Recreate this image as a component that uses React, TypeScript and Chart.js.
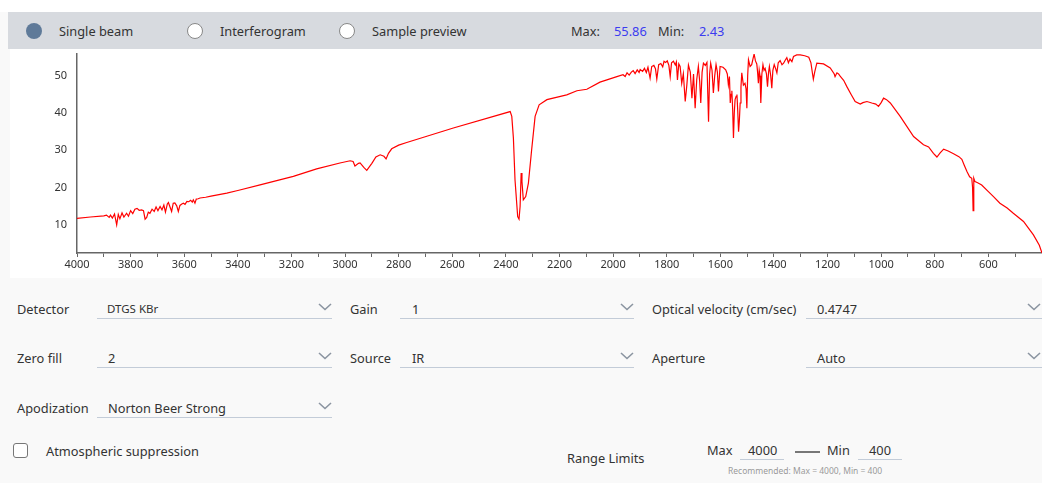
import React, { useEffect, useRef } from "react";
import { Chart, registerables } from "chart.js";

Chart.register(...registerables);

// Wavenumber (cm-1) of each sampled point, descending
const WAVENUMBERS = [
  4000, 3950, 3900, 3890, 3880, 3875, 3868, 3860, 3852, 3846, 3840, 3832, 3825, 3815, 3808, 3800,
  3792, 3784, 3776, 3768, 3759, 3752, 3746, 3740, 3734, 3728, 3720, 3712, 3705, 3698, 3690, 3683,
  3676, 3670, 3663, 3659, 3653, 3647, 3641, 3635, 3628, 3622, 3616, 3609, 3603, 3597, 3590, 3583,
  3576, 3570, 3566, 3560, 3555, 3548, 3541, 3520, 3500, 3441, 3400, 3317, 3193, 3106, 3019, 2981,
  2970, 2963, 2950, 2944, 2930, 2919, 2900, 2885, 2869, 2855, 2847, 2838, 2826, 2800, 2770, 2596,
  2384, 2378, 2372, 2366, 2356, 2351, 2347, 2343, 2340, 2335, 2326, 2316, 2304, 2291, 2276, 2247,
  2173, 2135, 2098, 2049, 1986, 1963, 1955, 1948, 1940, 1932, 1925, 1918, 1910, 1903, 1899, 1890,
  1883, 1876, 1870, 1862, 1856, 1848, 1842, 1837, 1830, 1822, 1815, 1810, 1804, 1798, 1792, 1787,
  1782, 1775, 1768, 1764, 1760, 1755, 1750, 1744, 1738, 1731, 1725, 1719, 1712, 1706, 1700, 1694,
  1688, 1682, 1677, 1673, 1668, 1663, 1656, 1650, 1644, 1640, 1636, 1631, 1626, 1621, 1616, 1611,
  1607, 1601, 1590, 1580, 1574, 1570, 1566, 1563, 1560, 1557, 1554, 1551, 1548, 1545, 1541, 1538,
  1535, 1532, 1529, 1526, 1523, 1520, 1514, 1508, 1504, 1501, 1498, 1495, 1489, 1483, 1478, 1474,
  1469, 1464, 1461, 1458, 1455, 1452, 1449, 1445, 1441, 1437, 1433, 1428, 1424, 1420, 1417, 1412,
  1408, 1404, 1399, 1394, 1389, 1384, 1377, 1370, 1364, 1358, 1352, 1346, 1340, 1333, 1327, 1315,
  1302, 1285, 1270, 1262, 1256, 1253, 1248, 1240, 1215, 1190, 1175, 1172, 1165, 1159, 1153, 1147,
  1140, 1128, 1112, 1097, 1078, 1068, 1053, 1035, 1020, 1010, 1000, 991, 980, 966, 929, 879,
  842, 823, 805, 792, 780, 767, 750, 730, 710, 699, 690, 680, 670, 662, 659, 657,
  655, 654, 650, 640, 625, 600, 580, 557, 530, 507, 469, 432, 410, 400,
];

// Single-beam intensity at each wavenumber
const SINGLE_BEAM = [
  11.7, 12.1, 12.4, 12.6, 12.0, 12.6, 11.8, 12.9, 10.0, 12.8, 11.6, 13.2, 12.1, 13.1, 12.3, 13.8,
  13.0, 14.2, 14.4, 13.9, 14.0, 13.8, 11.5, 12.0, 13.4, 13.1, 14.2, 13.6, 14.8, 13.8, 14.9, 14.0,
  15.3, 13.4, 15.6, 16.0, 14.8, 13.6, 15.8, 15.9, 15.1, 13.6, 15.2, 15.6, 15.8, 15.5, 16.3, 16.2,
  16.6, 16.1, 16.7, 15.8, 16.9, 17.0, 17.2, 17.4, 17.7, 18.5, 19.2, 20.7, 23.0, 25.0, 26.6, 27.2,
  27.0, 25.8, 26.5, 26.6, 25.4, 24.6, 26.5, 28.2, 28.8, 28.4, 27.7, 29.2, 30.4, 31.4, 32.1, 36.0,
  40.4, 39.1, 33.3, 22.1, 12.2, 11.5, 14.9, 23.9, 21.6, 16.7, 17.6, 21.2, 30.1, 39.1, 42.2, 43.6,
  44.9, 46.0, 46.4, 48.3, 49.8, 50.3, 49.8, 50.8, 50.2, 51.0, 51.4, 50.6, 51.6, 50.9, 51.7, 51.2,
  52.0, 50.9, 52.3, 49.4, 52.5, 52.8, 51.9, 49.1, 53.0, 53.3, 52.4, 53.9, 53.6, 54.0, 52.8, 49.8,
  53.5, 53.9, 52.9, 53.7, 48.9, 53.2, 52.5, 48.0, 50.6, 43.1, 47.5, 52.9, 51.0, 44.0, 50.5, 41.3,
  49.0, 52.5, 48.5, 42.7, 51.0, 53.4, 52.8, 53.6, 37.7, 50.5, 53.4, 51.5, 45.4, 50.0, 53.0, 51.0,
  45.8, 52.5, 52.3, 51.6, 50.5, 47.6, 49.8, 42.7, 45.0, 46.0, 41.0, 33.3, 40.0, 43.6, 44.5, 45.0,
  40.5, 35.0, 38.0, 42.7, 47.0, 50.8, 47.5, 48.0, 46.5, 41.3, 50.0, 54.3, 52.5, 53.0, 54.6, 55.86,
  54.0, 53.2, 51.0, 48.0, 51.5, 50.0, 42.7, 50.5, 53.0, 51.5, 52.0, 50.5, 47.1, 51.0, 52.5, 50.0,
  46.7, 51.5, 53.0, 52.0, 50.8, 53.5, 54.1, 53.0, 53.4, 54.2, 54.9, 53.5, 54.5, 53.8, 55.2, 55.6,
  55.6, 55.4, 55.0, 53.5, 50.5, 49.1, 51.0, 53.4, 53.2, 52.1, 50.5, 49.8, 50.8, 50.5, 49.9, 49.4,
  48.8, 47.1, 45.0, 43.1, 42.4, 42.8, 43.1, 42.7, 42.4, 41.8, 42.8, 44.0, 43.6, 42.7, 39.1, 33.7,
  31.5, 30.9, 29.2, 28.2, 29.3, 30.3, 29.8, 29.1, 28.3, 27.6, 26.0, 24.3, 22.9, 22.5, 20.0, 13.8,
  16.0, 22.5, 21.6, 21.3, 20.7, 18.9, 17.5, 15.8, 14.5, 13.1, 10.9, 7.3, 4.5, 2.43,
];

const X_TICK_LABELS = [4000, 3800, 3600, 3400, 3200, 3000, 2800, 2600, 2400, 2200, 2000, 1800, 1600, 1400, 1200, 1000, 800, 600];
const X_MINOR_TICKS = [
  4000, 3900, 3800, 3700, 3600, 3500, 3400, 3300, 3200, 3100, 3000, 2900, 2800, 2700, 2600, 2500, 2400, 2300, 2200,
  2100, 2000, 1900, 1800, 1700, 1600, 1500, 1400, 1300, 1200, 1100, 1000, 900, 800, 700, 600, 500, 400,
];
const Y_TICK_LABELS = [10, 20, 30, 40, 50];
const X_RANGE = [400, 4000];
const Y_RANGE = [2.43, 55.86];

const UI_FONT = "'Noto Sans', 'Open Sans', sans-serif";
const TEXT = "#333";

function T(props: { x: number; y: number; size?: number; color?: string; children: React.ReactNode; weight?: number }) {
  return (
    <div
      style={{
        position: "absolute",
        left: props.x,
        top: props.y,
        transform: "translateY(-50%)",
        whiteSpace: "nowrap",
        lineHeight: 1,
        fontSize: props.size ?? 12.8,
        color: props.color ?? TEXT,
        fontWeight: props.weight ?? 400,
      }}
    >
      {props.children}
    </div>
  );
}

function Chevron(props: { x: number; y: number }) {
  return (
    <svg style={{ position: "absolute", left: props.x - 7, top: props.y - 4 }} width={14} height={8}>
      <polyline points="1,1 7,6.5 13,1" fill="none" stroke="#8b95a1" strokeWidth={1.6} />
    </svg>
  );
}

function Underline(props: { x1: number; x2: number; y: number }) {
  return (
    <div
      style={{
        position: "absolute",
        left: props.x1,
        top: props.y,
        width: props.x2 - props.x1,
        height: 1,
        background: "#c3ccd8",
      }}
    />
  );
}

export default function App() {
  const ref = useRef<HTMLCanvasElement | null>(null);

  useEffect(() => {
    document.body.style.margin = "0";
    const canvas = ref.current;
    if (!canvas) return;
    const points = WAVENUMBERS.map((w, i) => ({ x: w, y: SINGLE_BEAM[i] }));
    const chart = new Chart(canvas, {
      type: "line",
      data: {
        datasets: [
          {
            data: points,
            borderColor: "#ff0000",
            borderWidth: 1.2,
            pointRadius: 0,
            tension: 0,
            fill: false,
          },
        ],
      },
      options: {
        animation: false,
        responsive: false,
        maintainAspectRatio: false,
        layout: { padding: { top: 4, right: 0, left: 0, bottom: 0 } },
        plugins: { legend: { display: false }, tooltip: { enabled: false } },
        scales: {
          x: {
            type: "linear",
            reverse: true,
            min: X_RANGE[0],
            max: X_RANGE[1],
            afterBuildTicks: (s: any) => {
              s.ticks = X_MINOR_TICKS.map((v) => ({ value: v }));
            },
            afterFit: (s: any) => {
              s.height = 25;
              s.paddingLeft = 0;
              s.paddingRight = 0;
              s.paddingTop = 0;
              s.paddingBottom = 0;
            },
            ticks: {
              autoSkip: false,
              maxRotation: 0,
              padding: 1,
              color: "#333",
              font: { family: UI_FONT, size: 11 },
              callback: (v: any) => (X_TICK_LABELS.includes(Number(v)) ? String(v) : ""),
            },
            grid: { drawOnChartArea: false, drawTicks: true, tickLength: 4, color: "#666" },
            border: { color: "#666", width: 1.5 },
          },
          y: {
            type: "linear",
            min: Y_RANGE[0],
            max: Y_RANGE[1],
            afterBuildTicks: (s: any) => {
              s.ticks = Y_TICK_LABELS.map((v) => ({ value: v }));
            },
            afterFit: (s: any) => {
              s.width = 67;
              s.paddingTop = 0;
              s.paddingBottom = 0;
              s.paddingLeft = 0;
              s.paddingRight = 0;
            },
            ticks: {
              padding: 10,
              color: "#333",
              font: { family: UI_FONT, size: 11 },
            },
            grid: { drawOnChartArea: false, drawTicks: false },
            border: { color: "#666", width: 1.5 },
          },
        },
      },
    } as any);
    return () => chart.destroy();
  }, []);

  return (
    <div
      style={{
        position: "fixed",
        left: 0,
        top: 0,
        width: 1042,
        height: 483,
        background: "#f9f9f9",
        overflow: "hidden",
        fontFamily: UI_FONT,
      }}
    >
      <div style={{ position: "absolute", left: 0, top: 0, width: 1042, height: 12, background: "#ffffff" }} />
      {/* top bar */}
      <div style={{ position: "absolute", left: 8, top: 12, width: 1034, height: 37, background: "#d7dadf" }} />
      <div
        style={{ position: "absolute", left: 26, top: 23, width: 16, height: 16, borderRadius: 8, background: "#5f7a99" }}
      />
      <T x={59} y={31}>Single beam</T>
      <div
        style={{
          position: "absolute",
          left: 187,
          top: 23,
          width: 14,
          height: 14,
          borderRadius: 8,
          background: "#fff",
          border: "1px solid #888",
        }}
      />
      <T x={220} y={31}>Interferogram</T>
      <div
        style={{
          position: "absolute",
          left: 339,
          top: 23,
          width: 14,
          height: 14,
          borderRadius: 8,
          background: "#fff",
          border: "1px solid #888",
        }}
      />
      <T x={372} y={31}>Sample preview</T>
      <T x={571} y={31}>Max:</T>
      <T x={614} y={31} color="#3c3cf0">55.86</T>
      <T x={658} y={31}>Min:</T>
      <T x={699} y={31} color="#3c3cf0">2.43</T>

      {/* chart panel */}
      <div style={{ position: "absolute", left: 10, top: 49, width: 1032, height: 229, background: "#ffffff" }} />
      <canvas ref={ref} width={1032} height={228} style={{ position: "absolute", left: 10, top: 50 }} />

      {/* form rows */}
      <T x={17} y={309}>Detector</T>
      <T x={107} y={309} size={11.5}>DTGS KBr</T>
      <Underline x1={97} x2={332} y={318} />
      <Chevron x={325} y={307} />
      <T x={350} y={309}>Gain</T>
      <T x={412} y={309}>1</T>
      <Underline x1={400} x2={634} y={318} />
      <Chevron x={627} y={307} />
      <T x={652} y={309}>Optical velocity (cm/sec)</T>
      <T x={817} y={309}>0.4747</T>
      <Underline x1={806} x2={1042} y={318} />
      <Chevron x={1034} y={307} />

      <T x={17} y={358}>Zero fill</T>
      <T x={108} y={358}>2</T>
      <Underline x1={97} x2={332} y={367} />
      <Chevron x={325} y={356} />
      <T x={350} y={358}>Source</T>
      <T x={412} y={358}>IR</T>
      <Underline x1={400} x2={634} y={367} />
      <Chevron x={627} y={356} />
      <T x={652} y={358}>Aperture</T>
      <T x={817} y={358}>Auto</T>
      <Underline x1={806} x2={1042} y={367} />
      <Chevron x={1034} y={356} />

      <T x={17} y={408}>Apodization</T>
      <T x={108} y={408}>Norton Beer Strong</T>
      <Underline x1={97} x2={332} y={417} />
      <Chevron x={325} y={406} />

      <div
        style={{
          position: "absolute",
          left: 13,
          top: 443,
          width: 13,
          height: 13,
          borderRadius: 3,
          background: "#fff",
          border: "1px solid #777",
        }}
      />
      <T x={46} y={451}>Atmospheric suppression</T>

      <T x={567} y={458}>Range Limits</T>
      <T x={707} y={450}>Max</T>
      <T x={748} y={450}>4000</T>
      <Underline x1={740} x2={784} y={459} />
      <div style={{ position: "absolute", left: 795, top: 451, width: 25, height: 1.5, background: "#777" }} />
      <T x={827} y={450}>Min</T>
      <T x={869} y={450}>400</T>
      <Underline x1={858} x2={902} y={459} />
      <T x={728} y={471} size={8.5} color="#9a9a9a">Recommended: Max = 4000, Min = 400</T>
    </div>
  );
}
